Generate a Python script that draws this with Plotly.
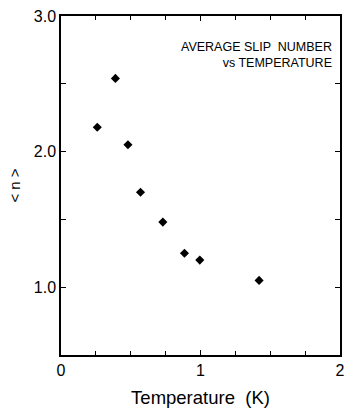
import plotly.graph_objects as go

temperature = [0.26, 0.39, 0.48, 0.57, 0.73, 0.885, 0.995, 1.42]
slip_number = [2.18, 2.54, 2.05, 1.70, 1.48, 1.25, 1.20, 1.05]

x_tickvals = [0, 1, 2]
x_ticktext = ["0", "1", "2"]
y_tickvals = [1, 2, 3]
y_ticktext = ["1.0", "2.0", "3.0"]

font_family = "Liberation Sans, Arial, Helvetica, sans-serif"

fig = go.Figure()
fig.add_trace(go.Scatter(
    x=temperature, y=slip_number, mode="markers",
    marker=dict(symbol="diamond", size=7, color="black"),
    showlegend=False,
))

axis_common = dict(
    showline=True, linecolor="black", linewidth=1.5, mirror="allticks",
    ticks="inside", ticklen=5, tickcolor="black", tickwidth=1,
    showgrid=False, zeroline=False,
    tickfont=dict(family=font_family, size=16, color="black"),
)

fig.update_layout(
    width=348, height=410,
    margin=dict(l=61, r=3, t=16, b=55),
    paper_bgcolor="white", plot_bgcolor="white",
    xaxis=dict(range=[0, 2], tickvals=x_tickvals, ticktext=x_ticktext,
               minor=dict(dtick=0.25, tick0=0, ticks="inside", ticklen=4, tickcolor="black"),
               title=dict(text="Temperature  (K)", font=dict(family=font_family, size=18.5, color="black"), standoff=13),
               **axis_common),
    yaxis=dict(range=[0.5, 3.0], tickvals=y_tickvals, ticktext=y_ticktext,
               minor=dict(dtick=0.5, tick0=0, ticks="inside", ticklen=5, tickcolor="black"),
               title=dict(text="< n >", font=dict(family=font_family, size=15, color="black"), standoff=10),
               **axis_common),
    annotations=[dict(
        text="AVERAGE SLIP  NUMBER<br>vs TEMPERATURE",
        xref="paper", yref="paper", x=0.978, y=0.935,
        xanchor="right", yanchor="top", align="right", showarrow=False,
        font=dict(family="Liberation Sans Narrow, Arial Narrow, " + font_family, size=12.5, color="black"),
    )],
)

fig.write_html("out.html")
